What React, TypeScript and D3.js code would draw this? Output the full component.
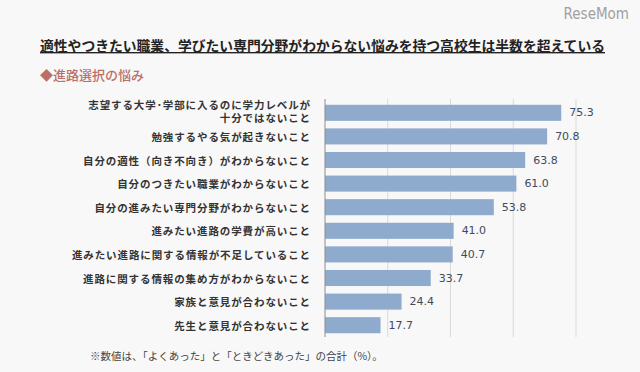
import { useEffect, useRef } from "react"
import * as d3 from "d3"

const categories = [
  "志望する大学･学部に入るのに学力レベルが|十分ではないこと",
  "勉強するやる気が起きないこと",
  "自分の適性（向き不向き）がわからないこと",
  "自分のつきたい職業がわからないこと",
  "自分の進みたい専門分野がわからないこと",
  "進みたい進路の学費が高いこと",
  "進みたい進路に関する情報が不足していること",
  "進路に関する情報の集め方がわからないこと",
  "家族と意見が合わないこと",
  "先生と意見が合わないこと",
]
const values = [75.3, 70.8, 63.8, 61.0, 53.8, 41.0, 40.7, 33.7, 24.4, 17.7]
const gridTicks = [20, 40, 60, 80]

const title = "適性やつきたい職業、学びたい専門分野がわからない悩みを持つ高校生は半数を超えている"
const subtitle = "◆進路選択の悩み"
const footnote = "※数値は、「よくあった」と「ときどきあった」の合計（%）。"

const W = 640
const H = 372
const JP = "'Noto Sans CJK JP', 'Noto Sans', sans-serif"

export default function App() {
  const svgRef = useRef<SVGSVGElement>(null)

  useEffect(() => {
    if (!svgRef.current) return
    const svg = d3.select(svgRef.current)
    svg.selectAll("*").remove()

    svg.append("rect").attr("width", W).attr("height", H).attr("fill", "#f8f8f8")

    // * Watermark
    svg
      .append("text")
      .attr("x", 629)
      .attr("y", 19)
      .attr("text-anchor", "end")
      .attr("font-family", "'DejaVu Sans Condensed', 'DejaVu Sans', sans-serif")
      .attr("font-size", "15px")
      .attr("fill", "#a0a0a0")
      .text("ReseMom")

    // * Title
    svg
      .append("text")
      .attr("x", 40)
      .attr("y", 51)
      .attr("font-family", JP)
      .attr("font-size", "13.8px")
      .attr("font-weight", "700")
      .attr("fill", "#222")
      .style("text-decoration", "underline")
      .text(title)

    svg
      .append("text")
      .attr("x", 40)
      .attr("y", 80)
      .attr("font-family", JP)
      .attr("font-size", "13px")
      .attr("font-weight", "500")
      .attr("fill", "#bb6f68")
      .text(subtitle)

    const x = d3.scaleLinear().domain([0, 80]).range([325, 576])
    const y = d3
      .scaleBand<number>()
      .domain(d3.range(values.length))
      .range([101, 337])
      .paddingInner(0.32)
      .paddingOuter(0.16)

    // * Gridlines
    svg
      .append("g")
      .selectAll("line")
      .data(gridTicks)
      .join("line")
      .attr("x1", (d) => x(d))
      .attr("x2", (d) => x(d))
      .attr("y1", 99)
      .attr("y2", 337)
      .attr("stroke", "#d9d9d9")
      .attr("stroke-width", 1)

    // * Bars
    svg
      .append("g")
      .selectAll("rect")
      .data(values)
      .join("rect")
      .attr("x", x(0))
      .attr("y", (_, i) => y(i)!)
      .attr("width", (d) => x(d) - x(0))
      .attr("height", y.bandwidth())
      .attr("fill", "#8eaacc")

    // * Axis line
    svg
      .append("line")
      .attr("x1", x(0))
      .attr("x2", x(0))
      .attr("y1", 99)
      .attr("y2", 337)
      .attr("stroke", "#8c8c8c")
      .attr("stroke-width", 1)

    // * Value labels
    svg
      .append("g")
      .selectAll("text")
      .data(values)
      .join("text")
      .attr("x", (d) => x(d) + 8)
      .attr("y", (_, i) => y(i)! + y.bandwidth() / 2)
      .attr("dominant-baseline", "central")
      .attr("font-family", "'DejaVu Sans', sans-serif")
      .attr("font-size", "11px")
      .attr("fill", "#3f4b5b")
      .text((d) => d.toFixed(1))

    // * Category labels
    const labels = svg
      .append("g")
      .selectAll("text")
      .data(categories)
      .join("text")
      .attr("text-anchor", "end")
      .attr("font-family", JP)
      .attr("font-size", "10.5px")
      .attr("font-weight", "700")
      .attr("letter-spacing", "0.9px")
      .attr("fill", "#333")

    labels.each(function (d, i) {
      const parts = d.split("|")
      const t = d3.select(this)
      const cy = y(i)! + y.bandwidth() / 2
      if (parts.length === 1) {
        t.attr("x", 311).attr("y", cy).attr("dominant-baseline", "central").text(d)
      } else {
        parts.forEach((p, k) => {
          t.append("tspan")
            .attr("x", 311)
            .attr("y", cy - 4 + k * 13.5)
            .text(p)
        })
      }
    })

    // * Footnote
    svg
      .append("text")
      .attr("x", 90)
      .attr("y", 360)
      .attr("font-family", JP)
      .attr("font-size", "10.5px")
      .attr("fill", "#444")
      .text(footnote)
  }, [])

  return (
    <svg
      ref={svgRef}
      width={W}
      height={H}
      style={{ position: "absolute", left: 0, top: 0, display: "block" }}
    ></svg>
  )
}
